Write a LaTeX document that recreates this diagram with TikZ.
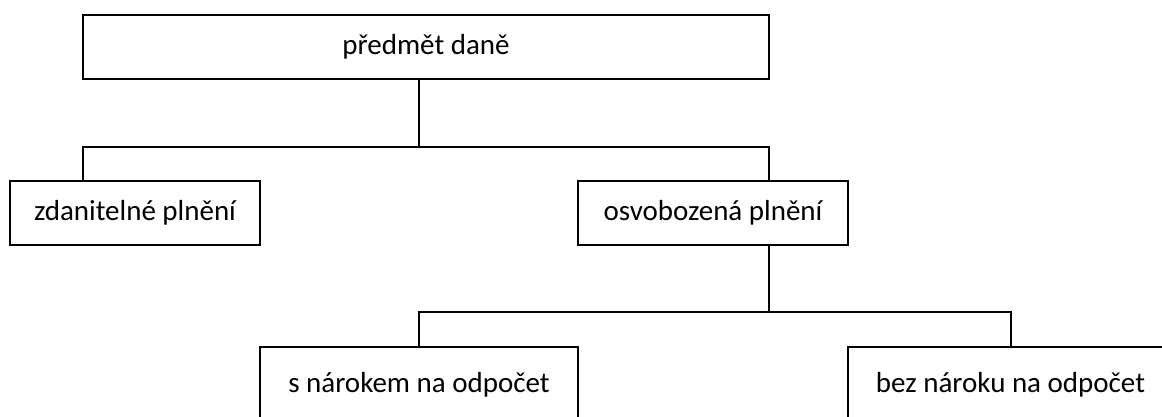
\documentclass[tikz,border=0pt]{standalone}
\usepackage{fontspec}
\setmainfont{Carlito}
\begin{document}
\begin{tikzpicture}[x=1pt,y=-1pt,
  box/.style={draw=black,line width=2.2pt,rectangle,inner sep=0pt,font=\fontsize{29}{34}\selectfont},
  conn/.style={draw=black,line width=2.2pt}]
\useasboundingbox (0,0) rectangle (1162,416);
\clip (0,0) rectangle (1162,416);
\fill[white] (0,0) rectangle (1162,416);
\node[box,minimum width=686pt,minimum height=64pt] (top) at (426,47) {předmět daně};
\node[box,minimum width=250pt,minimum height=64pt] (zdan) at (135,213) {zdanitelné plnění};
\node[box,minimum width=270pt,minimum height=64pt] (osv) at (713,213) {osvobozená plnění};
\node[box,minimum width=318pt,minimum height=76pt] (snar) at (419,385) {s nárokem na odpočet};
\node[box,minimum width=325pt,minimum height=76pt] (bez) at (1010.5,385) {bez nároku na odpočet};
\coordinate (j1) at (419,147);
\coordinate (j2) at (83,147);
\coordinate (j3) at (769,147);
\coordinate (j4) at (769,312);
\coordinate (j5) at (419,312);
\coordinate (j6) at (1011,312);
\draw[conn] (top.south -| j1) -- (j1);
\draw[conn] (j2 |- zdan.north) -- (j2) -- (j3) -- (j3 |- osv.north);
\draw[conn] (osv.south -| j4) -- (j4);
\draw[conn] (j5 |- snar.north) -- (j5) -- (j6) -- (j6 |- bez.north);
\end{tikzpicture}
\end{document}
